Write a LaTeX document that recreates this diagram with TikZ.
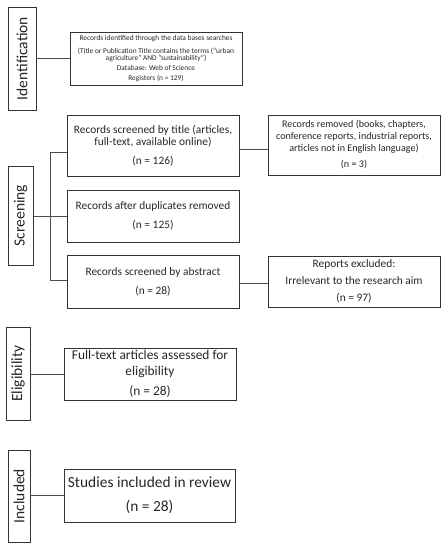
\documentclass[tikz,border=0pt]{standalone}
\usepackage{fontspec}
\setmainfont{Carlito}
\begin{document}
\begin{tikzpicture}[x=1pt,y=-1pt,
  every node/.style={text=black!85},
  line/.style={draw=black!70,line width=0.8pt},
  stage/.style={draw=black!80,line width=0.9pt,rotate=90,inner sep=0pt,font=\fontsize{15.5}{18}\selectfont},
  box/.style={draw=black!80,line width=0.9pt,inner sep=0pt,align=center,minimum width=172pt}]
\useasboundingbox (0,0) rectangle (445,550);
% stage labels
\node[stage,minimum width=103pt,minimum height=28pt] (ident) at (22,58.5) {Identification};
\node[stage,minimum width=99pt,minimum height=25pt] (screen) at (20.5,215.5) {Screening};
\node[stage,minimum width=93pt,minimum height=24pt] (elig) at (18,373.5) {Eligibility};
\node[stage,minimum width=92pt,minimum height=22pt] (incl) at (19,496) {Included};
% boxes
\node[box,minimum height=53pt,font=\fontsize{7.4}{7.5}\selectfont] (id) at (156,58.5)
  {Records identified through the data bases searches\\[5.5pt]
   (Title or Publication Title contains the terms (“urban\\
   agriculture” AND “sustainability”)\\[2.5pt]
   Database: Web of Science\\[2.5pt]
   Registers (n = 129)};
\node[box,minimum height=61pt,font=\fontsize{11.4}{12}\selectfont] (title) at (153,145.5)
  {Records screened by title (articles,\\ full-text, available online)\\[7pt] (n = 126)};
\node[box,minimum height=60pt,font=\fontsize{10.1}{12}\selectfont] (removed) at (354,145)
  {Records removed (books, chapters,\\ conference reports, industrial reports,\\ articles not in English language)\\[4pt] (n = 3)};
\node[box,minimum height=52pt,font=\fontsize{11.4}{12}\selectfont] (dup) at (153,216)
  {Records after duplicates removed\\[7pt] (n = 125)};
\node[box,minimum height=53pt,font=\fontsize{11.4}{12}\selectfont] (abs) at (153,281.5)
  {Records screened by abstract\\[7pt] (n = 28)};
\node[box,minimum height=51pt,font=\fontsize{11.4}{12}\selectfont] (excl) at (354,281.5)
  {Reports excluded:\\[5pt] Irrelevant to the research aim\\[5pt] (n = 97)};
\node[box,minimum height=52pt,font=\fontsize{13.4}{16}\selectfont] (full) at (150,374)
  {Full-text articles assessed for\\ eligibility\\[4pt] (n = 28)};
\node[box,minimum width=171pt,minimum height=53pt,font=\fontsize{15.4}{18}\selectfont] (study) at (149.5,495.5)
  {Studies included in review\\[6pt] (n = 28)};
% connectors
\draw[line] (ident.south |- id.west) -- (id.west);
\coordinate (j) at (50,216);
\coordinate (jt) at (50,152);
\coordinate (jb) at (50,280);
\draw[line] (screen.south |- j) -- (j);
\draw[line] (jt) -- (jb);
\draw[line] (jt) -- (jt -| title.west);
\draw[line] (j) -- (j -| dup.west);
\draw[line] (jb) -- (jb -| abs.west);
\coordinate (r) at (250,149);
\draw[line] (r -| title.east) -- (r -| removed.west);
\coordinate (e) at (250,283);
\draw[line] (e -| abs.east) -- (e -| excl.west);
\draw[line] (elig.south |- full.west) -- (full.west);
\draw[line] (incl.south |- study.west) -- (study.west);
\end{tikzpicture}
\end{document}
